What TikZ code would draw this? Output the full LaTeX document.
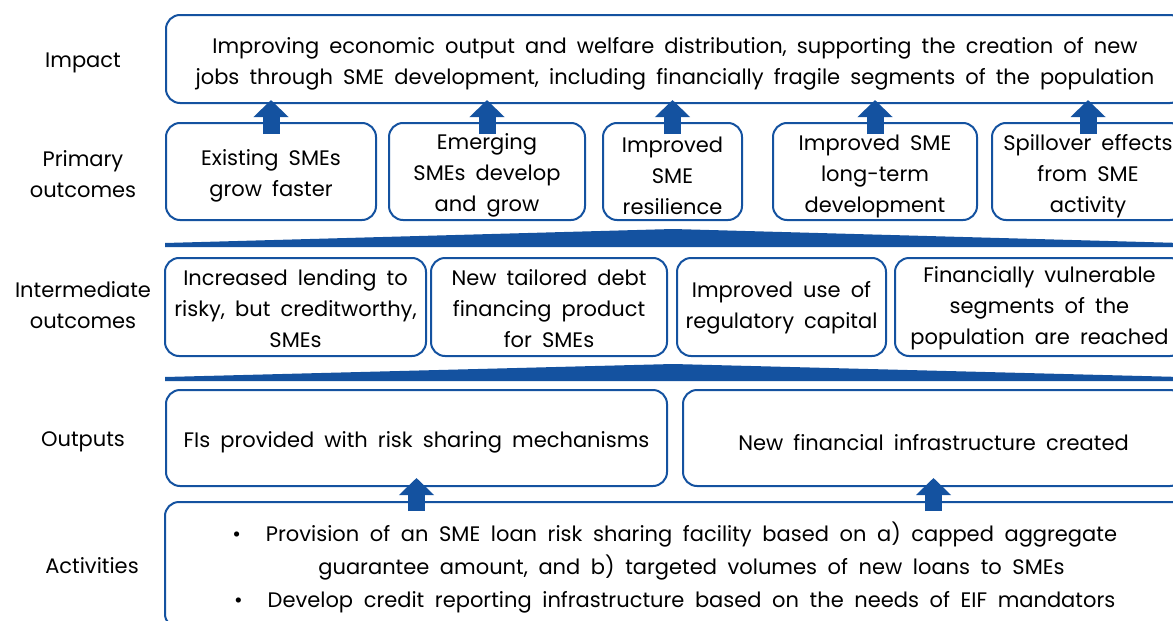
\documentclass[tikz,border=0pt]{standalone}
\usepackage{fontspec}
\setmainfont{Poppins}
\usetikzlibrary{arrows.meta,calc}
\definecolor{eifblue}{RGB}{20,82,160}
\newcommand{\boxfont}{\fontsize{21}{31}\selectfont\spaceskip=\dimexpr\fontdimen2\font+4.5pt\relax}
\newcommand{\actfont}{\fontsize{21}{33}\selectfont\spaceskip=\dimexpr\fontdimen2\font+5pt\relax}
\newcommand{\bul}{\llap{\textbullet\hspace{25pt}}}
% top struts shifting the text block down
\newcommand{\sth}{\rule{0pt}{\dimexpr\fontcharht\font`\l+11pt\relax}}
\newcommand{\stm}{\rule{0pt}{\dimexpr\fontcharht\font`\l+9pt\relax}}
\newcommand{\stl}{\rule{0pt}{\dimexpr\fontcharht\font`\l+3pt\relax}}
\newcommand{\sta}{\rule{0pt}{\dimexpr\fontcharht\font`\l+9pt\relax}}
\begin{document}
\begin{tikzpicture}[x=1pt,y=-1pt,
  box/.style={draw=eifblue, line width=2pt, rounded corners=14pt, align=center, inner sep=0pt, font=\boxfont},
  lab/.style={align=center, inner sep=0pt, font=\boxfont},
  uparrow/.style={draw=eifblue, line width=17pt, -{Triangle[width=34pt,length=17pt]}},
  wedge/.style={fill=eifblue}]
\clip (0,0) rectangle (1173,621);
\useasboundingbox (0,0) rectangle (1173,621);
\fill[white] (0,0) rectangle (1173,621);

% left labels
\node[lab] (limpact) at (83,63) {Impact};
\node[lab] (lprim) at (83,174) {Primary\\outcomes};
\node[lab] (linter) at (83,305) {Intermediate\\outcomes};
\node[lab] (lout) at (83,442) {Outputs};
\node[lab] (lact) at (92,566) {Activities};

% impact
\node[box, minimum width=1018pt, minimum height=88pt] (impact) at (675,59)
  {\sth Improving economic output and welfare distribution, supporting the creation of new\\jobs through SME development, including financially fragile segments of the population};

% primary outcomes
\node[box, minimum width=210pt, minimum height=97pt] (p1) at (271,171.5) {\stm Existing SMEs\\grow faster};
\node[box, minimum width=196pt, minimum height=97pt] (p2) at (487,171.5) {\stm Emerging\\SMEs develop\\and grow};
\node[box, minimum width=139pt, minimum height=97pt] (p3) at (672.5,171.5) {\stm Improved\\SME\\resilience};
\node[box, minimum width=204pt, minimum height=97pt] (p4) at (875,171.5) {\stm Improved SME\\long-term\\development};
\node[box, minimum width=192pt, minimum height=97pt] (p5) at (1088,171.5) {\stm Spillover effects\\from SME\\activity};

% separators
\fill[wedge] (165,247) -- (165,243) -- (673,229) -- (1181,243) -- (1181,247) -- cycle;
\fill[wedge] (165,381) -- (165,377) -- (673,364) -- (1181,377) -- (1181,381) -- cycle;

% intermediate outcomes
\node[box, minimum width=261pt, minimum height=98pt] (i1) at (295.5,307) {\stl Increased lending to\\risky, but creditworthy,\\SMEs};
\node[box, minimum width=236pt, minimum height=98pt] (i2) at (549,307) {\stl New tailored debt\\financing product\\for SMEs};
\node[box, minimum width=209pt, minimum height=98pt] (i3) at (781.5,307) {\stl Improved use of\\regulatory capital};
\node[box, minimum width=289pt, minimum height=98pt] (i4) at (1039.5,307) {\stl Financially vulnerable\\segments of the\\population are reached};

% outputs
\node[box, minimum width=501pt, minimum height=96pt] (o1) at (416.5,438) {\stm FIs provided with risk sharing mechanisms};
\node[box, minimum width=501pt, minimum height=96pt] (o2) at (933.5,438) {\stm New financial infrastructure created};

% activities
\node[box, minimum width=1053pt, minimum height=126pt, font=\actfont] (act) at (691.5,565)
  {\sta\bul Provision of an SME loan risk sharing facility based on a) capped aggregate\\guarantee amount, and b) targeted volumes of new loans to SMEs\\\bul Develop credit reporting infrastructure based on the needs of EIF mandators};

% arrows
\foreach \n in {p1,p2,p3,p4,p5}
  \draw[uparrow] ([yshift=-12pt]\n.north) -- ([yshift=4pt]\n.north |- impact.south);
\foreach \n in {o1,o2}
  \draw[uparrow] ([yshift=-10pt]\n.south |- act.north) -- ([yshift=9pt]\n.south);
\end{tikzpicture}
\end{document}
